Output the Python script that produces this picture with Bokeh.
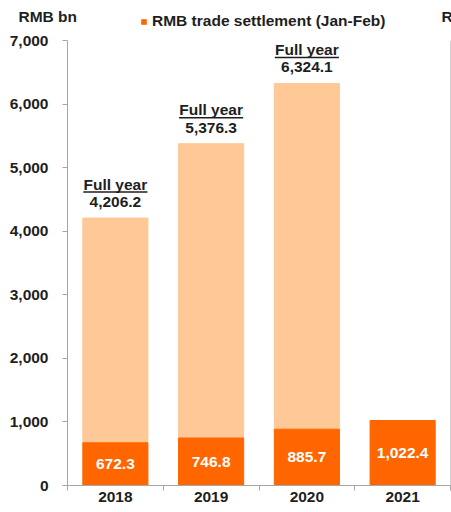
from bokeh.plotting import figure
from bokeh.layouts import column
from bokeh.models import (Range1d, FixedTicker, NumeralTickFormatter, Span,
                          Legend, LegendItem, ColumnDataSource)
from bokeh.core.properties import value
from bokeh.embed import file_html
from bokeh.resources import INLINE

# ---- data ----
years = ["2018", "2019", "2020", "2021"]
jan_feb = [672.3, 746.8, 885.7, 1022.4]
full_year = [4206.2, 5376.3, 6324.1, None]
y_ticks = [0, 1000, 2000, 3000, 4000, 5000, 6000, 7000]
legend_text = "RMB trade settlement (Jan-Feb)"
unit_text = "RMB bn"
full_year_text = "Full year"

# ---- style ----
ORANGE = "#FF6600"
PEACH = "#FFC896"
TXT = "#1E1E1E"
AX = "#A6A6A6"
FONT = "Liberation Sans"
FS = "15.5px"

W = 451
TOP_H = 30
H = 474
FL, FT, FR, FB = 67, 10, 1, 19
frame_h = H - FT - FB

xs = [i + 0.5 for i in range(len(years))]

# ---------- header strip (unit labels + legend) ----------
top = figure(width=W, height=TOP_H, output_backend="svg", toolbar_location=None,
             x_range=Range1d(0, W), y_range=Range1d(TOP_H, 0),
             x_axis_type=None, y_axis_type=None, min_border=0)
top.outline_line_color = None
top.grid.visible = False
top.background_fill_color = "white"
top.border_fill_color = "white"

hdr_src = ColumnDataSource(dict(x=[18, 441], y=[16, 16], t=[unit_text, unit_text]))
top.text(x="x", y="y", text="t", source=hdr_src, text_color=TXT,
         text_font=value(FONT), text_font_size=value(FS), text_font_style="bold",
         text_align="left", text_baseline="middle")
# swatch-only renderer for the legend (zero size, nothing drawn in the strip)
r_leg = top.vbar(x=[0], top=[0], bottom=[0], width=0, fill_color=ORANGE,
                 line_color=ORANGE, line_alpha=0)
leg = Legend(items=[LegendItem(label=legend_text, renderers=[r_leg])],
             location=(140, 0), orientation="horizontal",
             glyph_width=7, glyph_height=7, label_standoff=5, label_height=7,
             padding=0, margin=0, spacing=0, border_line_color=None,
             background_fill_alpha=0, label_text_font=FONT, label_text_font_size=FS,
             label_text_font_style="bold", label_text_color=TXT)
top.add_layout(leg)

# ---------- main chart ----------
p = figure(width=W, height=H, output_backend="svg", toolbar_location=None,
           x_range=Range1d(0, len(years)), y_range=Range1d(y_ticks[0], y_ticks[-1]),
           min_border_left=FL, min_border_top=FT, min_border_right=FR, min_border_bottom=FB)
p.outline_line_color = None
p.grid.visible = False
p.background_fill_color = "white"
p.border_fill_color = "white"

for fig in (top, p):
    if "frame_align" in type(fig).properties():
        fig.frame_align = False

src_total = ColumnDataSource(dict(x=[x for x, f in zip(xs, full_year) if f is not None],
                                  top=[f for f in full_year if f is not None],
                                  bottom=[j for j, f in zip(jan_feb, full_year) if f is not None]))
p.vbar(x="x", top="top", bottom="bottom", width=0.68, source=src_total,
       fill_color=PEACH, line_color=PEACH)
src_jf = ColumnDataSource(dict(x=xs, top=jan_feb, mid=[v / 2 for v in jan_feb],
                               lbl=[f"{v:,.1f}" for v in jan_feb]))
p.vbar(x="x", top="top", bottom=0, width=0.68, source=src_jf,
       fill_color=ORANGE, line_color=ORANGE)

p.text(x="x", y="mid", text="lbl", source=src_jf, text_color="white",
       text_font=value(FONT), text_font_size=value(FS), text_font_style="bold",
       text_align="center", text_baseline="middle")

px2data = (y_ticks[-1] - y_ticks[0]) / frame_h
fy_x = [x for x, f in zip(xs, full_year) if f is not None]
fy_v = [f for f in full_year if f is not None]
src_fy = ColumnDataSource(dict(x=fy_x, y=fy_v, lbl=[f"{v:,.1f}" for v in fy_v],
                               hdr=[full_year_text] * len(fy_v),
                               ul=[v + 26 * px2data for v in fy_v],
                               x0=[x - 0.335 for x in fy_x], x1=[x + 0.335 for x in fy_x]))
p.text(x="x", y="y", text="lbl", source=src_fy, y_offset=-16, text_color=TXT,
       text_font=value(FONT), text_font_size=value(FS), text_font_style="bold",
       text_align="center", text_baseline="middle")
p.text(x="x", y="y", text="hdr", source=src_fy, y_offset=-34, text_color=TXT,
       text_font=value(FONT), text_font_size=value(FS), text_font_style="bold",
       text_align="center", text_baseline="middle")
p.segment(x0="x0", x1="x1", y0="ul", y1="ul", source=src_fy, line_color=TXT, line_width=1.5)

xa = p.xaxis[0]
xa.ticker = FixedTicker(ticks=xs, minor_ticks=list(range(len(years) + 1)))
xa.major_label_overrides = {x: y for x, y in zip(xs, years)}
xa.major_tick_line_color = None
xa.major_tick_out = 0
xa.major_tick_in = 0
xa.minor_tick_out = 5
xa.minor_tick_in = 0
xa.minor_tick_line_color = AX
xa.axis_line_color = AX
xa.major_label_standoff = 1
xa.major_label_text_font = FONT
xa.major_label_text_font_size = FS
xa.major_label_text_font_style = "bold"
xa.major_label_text_color = TXT

ya = p.yaxis[0]
ya.ticker = FixedTicker(ticks=y_ticks)
ya.formatter = NumeralTickFormatter(format="0,0")
ya.major_tick_out = 5
ya.major_tick_in = 0
ya.minor_tick_line_color = None
ya.major_tick_line_color = AX
ya.axis_line_color = AX
ya.major_label_standoff = 14
ya.major_label_text_font = FONT
ya.major_label_text_font_size = FS
ya.major_label_text_font_style = "bold"
ya.major_label_text_color = TXT

p.add_layout(Span(location=len(years), dimension="height", line_color=AX, line_width=1))

layout = column(top, p, spacing=0)
open("out.html", "w").write(file_html(layout, INLINE))
